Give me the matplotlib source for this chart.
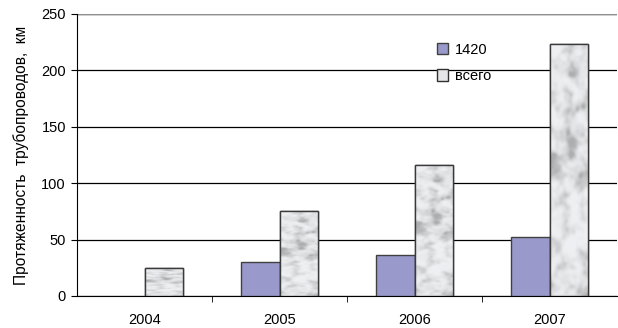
import numpy as np
import matplotlib.pyplot as plt

plt.rcParams['font.family'] = ['Liberation Sans', 'DejaVu Sans']

# длина трубопроводов по годам, км
years = ['2004', '2005', '2006', '2007']
d1420 = [np.nan, 30, 36, 52]
vsego = [25, 75, 116, 223]

fig = plt.figure(figsize=(6.18, 3.28), dpi=100)
ax = fig.add_axes([0.1246, 0.0976, 0.8738, 0.8598])

x = np.arange(len(years))
w = 0.285

b1 = ax.bar(x - w / 2, d1420, w, color='#9999CC', edgecolor='#404040', linewidth=1.0,
            label='1420', zorder=3)
b2 = ax.bar(x + w / 2, vsego, w, color='#E4E6E8', edgecolor='#303030', linewidth=1.0,
            label='всего', zorder=3)


def smooth(a, n, times=3):
    k = np.ones(n) / n
    for _ in range(times):
        a = np.apply_along_axis(lambda r: np.convolve(r, k, mode='same'), 0, a)
        a = np.apply_along_axis(lambda r: np.convolve(r, k, mode='same'), 1, a)
    return a


def norm(a):
    lo, hi = np.percentile(a, [1, 99])
    return np.clip((a - lo) / (hi - lo), 0, 1)


# мраморная заливка для столбцов "всего": светлый фон с мягкими серыми разводами
rng = np.random.default_rng(3)
m = 40  # запас по краям, чтобы убрать краевой эффект свёртки
coarse = smooth(rng.random((260 + 2 * m, 50 + 2 * m)), 9)[m:-m, m:-m]
fine = smooth(rng.random((260 + 2 * m, 50 + 2 * m)), 4)[m:-m, m:-m]
marble = norm(0.7 * norm(coarse) + 0.3 * norm(fine))
shade = 0.95 - 0.26 * marble ** 2.2
tex = np.dstack([shade * 0.985, shade * 0.99, shade * 1.0])
tex = np.clip(tex, 0, 1)

for bar in b2:
    bx, by = bar.get_x(), bar.get_y()
    bw, bh = bar.get_width(), bar.get_height()
    im = ax.imshow(tex, aspect='auto', extent=(bx, bx + bw, by, by + bh),
                   zorder=3.5, interpolation='bilinear')
    im.set_clip_path(bar)
    ax.add_patch(plt.Rectangle((bx, by), bw, bh, fill=False,
                               edgecolor='#3a3a3a', linewidth=1.0, zorder=4))

ax.set_xlim(-0.5, len(years) - 0.5)
ax.set_ylim(0, 250)
ax.set_yticks(range(0, 251, 50))
ax.yaxis.grid(True, color='black', linewidth=0.9, zorder=0)
ax.set_axisbelow(True)

ax.set_xticks(x)
ax.set_xticklabels(years)
ax.set_xticks(np.arange(0.5, len(years) - 0.5, 1), minor=True)
ax.tick_params(axis='x', which='major', length=0, pad=12, labelsize=10.5)
ax.tick_params(axis='x', which='minor', length=4, direction='out', color='black')
ax.tick_params(axis='y', length=4, direction='out', labelsize=10.5, pad=4)

for s in ['top', 'right']:
    ax.spines[s].set_visible(False)
ax.spines['left'].set_color('black')
ax.spines['bottom'].set_color('black')
ax.axhline(250, color='#909090', linewidth=1.0, zorder=1)

ax.set_ylabel('Протяженность  трубопроводов,  км', fontsize=11.2, labelpad=9)

ax.legend(loc='upper left', bbox_to_anchor=(0.642, 0.945), frameon=False,
          fontsize=10.5, handlelength=0.8, handleheight=0.8, handletextpad=0.45,
          labelspacing=0.85)

fig.savefig('out.png', dpi=100)
